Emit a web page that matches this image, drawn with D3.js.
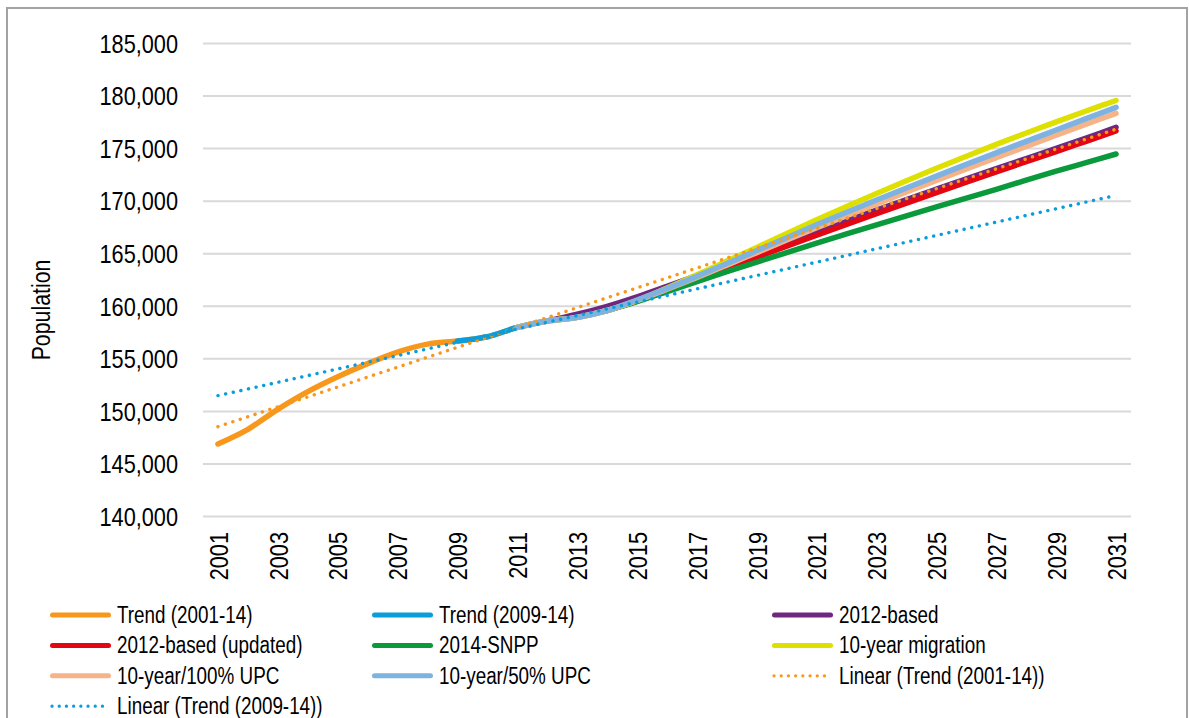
<!DOCTYPE html>
<html>
<head>
    <meta charset="utf-8">
    <title>Population projections</title>
    <style>
        body { margin: 0; background: #fff; }
        svg { display: block; font-family: "Liberation Sans", Arial, sans-serif; }
    </style>
</head>
<body>
    <svg></svg>
    <script src="https://d3js.org/d3.v7.min.js"></script>
    <script>
        // categories
        const years = d3.range(2001, 2032);
        const xTickYears = years.filter(d => d % 2 === 1);
        const yTicks = [140000, 145000, 150000, 155000, 160000, 165000, 170000, 175000, 180000, 185000];

        // series values (start year + yearly values)
        const trend0114 = [146850, 148250, 150150, 151830, 153250, 154500, 155600, 156350, 156650, 157050, 157950, 158550, 158900, 159550];
        const trend0914 = [156650, 157050, 157950, 158550, 158900, 159550];
        const based2012 = [158550, 159200, 159950, 160850, 161850, 162880, 163920, 164960, 166000, 167050, 168080, 169100, 170110, 171100, 172080, 173050, 174010, 174970, 175950, 176980];
        const based2012upd = [159550, 160450, 161450, 162500, 163560, 164620, 165670, 166710, 167740, 168760, 169770, 170770, 171760, 172740, 173710, 174670, 175650, 176630];
        const snpp2014 = [159550, 160400, 161350, 162300, 163240, 164160, 165060, 165950, 166830, 167700, 168560, 169410, 170250, 171080, 171950, 172800, 173620, 174440];
        const migration10 = [157950, 158550, 158900, 159550, 160500, 161700, 162950, 164250, 165550, 166880, 168180, 169450, 170690, 171900, 173080, 174230, 175350, 176440, 177500, 178530, 179530];
        const upc100 = [157950, 158550, 158900, 159550, 160500, 161580, 162700, 163870, 165060, 166250, 167420, 168570, 169700, 170820, 171920, 173010, 174090, 175160, 176220, 177270, 178310];
        const upc50 = [157950, 158550, 158900, 159550, 160550, 161650, 162800, 164020, 165250, 166480, 167700, 168890, 170060, 171210, 172340, 173450, 174550, 175640, 176720, 177800, 178880];
        // linear trend lines: values at 2001 and 2031
        const linear0114 = [148500, 176800];
        const linear0914 = [151450, 170500];

        const seriesNames = ["Trend (2001-14)", "Trend (2009-14)", "2012-based", "2012-based (updated)", "2014-SNPP",
            "10-year migration", "10-year/100% UPC", "10-year/50% UPC", "Linear (Trend (2001-14))", "Linear (Trend (2009-14))"];
        const seriesColors = ["#f7981d", "#0b9dd9", "#70277f", "#e30613", "#0a9a3c", "#dee000", "#f5b387", "#7eb3e1", "#f7981d", "#0b9dd9"];

        const toPoints = (start, vals) => vals.map((v, i) => ({ year: start + i, value: v }));
        const series = [
            toPoints(2001, trend0114),
            toPoints(2009, trend0914),
            toPoints(2012, based2012),
            toPoints(2014, based2012upd),
            toPoints(2014, snpp2014),
            toPoints(2011, migration10),
            toPoints(2011, upc100),
            toPoints(2011, upc50),
            [{ year: 2001, value: linear0114[0] }, { year: 2031, value: linear0114[1] }],
            [{ year: 2001, value: linear0914[0] }, { year: 2031, value: linear0914[1] }]
        ].map((pts, i) => ({ name: seriesNames[i], color: seriesColors[i], dotted: i >= 8, points: pts }));

        const width = 1189;
        const height = 718;
        const plot = { left: 203, right: 1131, top: 43, bottom: 516 };
        const narrow = 0.82; // condensed type

        const svg = d3.select('svg').attr('width', width).attr('height', height);

        svg.append('rect')
            .attr('x', 7).attr('y', 8)
            .attr('width', 1180).attr('height', 800)
            .attr('fill', 'none').attr('stroke', '#a3a3a3').attr('stroke-width', 2);

        const x = d3.scalePoint().domain(years).range([plot.left, plot.right]).padding(0.5);
        const y = d3.scaleLinear().domain([140000, 185000]).range([plot.bottom, plot.top]);

        // y axis + gridlines
        const yAxisG = svg.append('g')
            .attr('transform', `translate(${plot.left},0)`)
            .call(d3.axisLeft(y).tickValues(yTicks).tickFormat(d3.format(','))
                .tickSize(-(plot.right - plot.left)).tickPadding(0));
        yAxisG.select('.domain').remove();
        yAxisG.selectAll('line').attr('stroke', '#d9d9d9').attr('stroke-width', 2);
        yAxisG.selectAll('text')
            .attr('x', -25 / narrow)
            .attr('dy', '0.35em')
            .attr('transform', `scale(${narrow},1)`)
            .attr('fill', '#000')
            .style('font-size', '26.5px')
            .style('font-family', '"Liberation Sans", Arial, sans-serif');

        // x axis
        const xAxisG = svg.append('g')
            .attr('transform', `translate(0,${plot.bottom})`)
            .call(d3.axisBottom(x).tickValues(xTickYears).tickSize(0));
        xAxisG.select('.domain').remove();
        xAxisG.selectAll('text')
            .attr('x', 0).attr('y', 0)
            .attr('dy', '0.35em')
            .attr('text-anchor', 'end')
            .attr('transform', `translate(0,16) rotate(-90) scale(${narrow},1)`)
            .attr('fill', '#000')
            .style('font-size', '26.5px')
            .style('font-family', '"Liberation Sans", Arial, sans-serif');

        // y title
        svg.append('text')
            .attr('transform', `translate(50,310) rotate(-90) scale(${narrow},1)`)
            .attr('text-anchor', 'middle')
            .style('font-size', '26px')
            .text('Population');

        // lines
        const line = d3.line()
            .x(d => x(d.year))
            .y(d => y(d.value))
            .curve(d3.curveCatmullRom.alpha(0.5));

        svg.append('g').selectAll('path').data(series).enter().append('path')
            .attr('d', d => line(d.points))
            .attr('fill', 'none')
            .attr('stroke', d => d.color)
            .attr('stroke-width', d => d.dotted ? 3.4 : 5.5)
            .attr('stroke-linecap', 'round')
            .attr('stroke-linejoin', 'round')
            .attr('stroke-dasharray', d => d.dotted ? '0.1 7.7' : null);

        // legend
        const legendCols = [50, 372, 772];
        const legendRowY = 615;
        const legendRowStep = 30.4;
        const legend = svg.append('g').selectAll('g').data(series).enter().append('g')
            .attr('transform', (d, i) => `translate(${legendCols[i % 3]},${legendRowY + Math.floor(i / 3) * legendRowStep})`);
        legend.append('line')
            .attr('x1', d => d.dotted ? 2 : 2.5).attr('x2', d => d.dotted ? 59 : 58.5)
            .attr('y1', 0).attr('y2', 0)
            .attr('stroke', d => d.color)
            .attr('stroke-width', d => d.dotted ? 3.2 : 5)
            .attr('stroke-linecap', 'round')
            .attr('stroke-dasharray', d => d.dotted ? '0.1 7.1' : null);
        legend.append('text')
            .attr('transform', `translate(67,0) scale(${narrow},1)`)
            .attr('dy', '0.35em')
            .style('font-size', '23px')
            .text(d => d.name);
    </script>
</body>
</html>
